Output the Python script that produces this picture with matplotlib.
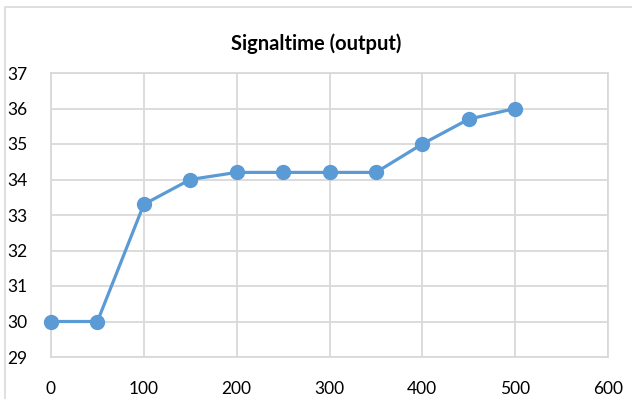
import matplotlib
matplotlib.use("Agg")
import matplotlib.pyplot as plt
from matplotlib.patches import Rectangle

x_values = [0, 50, 100, 150, 200, 250, 300, 350, 400, 450, 500]
y_values = [30, 30, 33.3, 34, 34.2, 34.2, 34.2, 34.2, 35, 35.7, 36]
x_ticks = [0, 100, 200, 300, 400, 500, 600]
y_ticks = [29, 30, 31, 32, 33, 34, 35, 36, 37]
title = "Signaltime (output)"

plt.rcParams['font.family'] = ['Lato', 'DejaVu Sans']

fig = plt.figure(figsize=(6.32, 3.99), dpi=100)
W, H = 632, 399
fig.patches.append(Rectangle((5 / W, -0.1), 1.2, (399 - 7) / H + 0.1, transform=fig.transFigure,
                             fill=False, edgecolor='#D9D9D9', linewidth=1.2))

ax = fig.add_axes([51 / W, 1 - 357 / H, (608 - 51) / W, (357 - 73) / H])
ax.plot(x_values, y_values, color='#5B9BD5', linewidth=2.3, marker='o', markersize=10,
        markerfacecolor='#5B9BD5', markeredgecolor='#5B9BD5', clip_on=False, zorder=3)
ax.set_xlim(0, 600)
ax.set_ylim(29, 37)
ax.set_xticks(x_ticks)
ax.set_yticks(y_ticks)
ax.grid(True, color='#D9D9D9', linewidth=1.3)
for s in ax.spines.values():
    s.set_color('#D9D9D9')
    s.set_linewidth(1.3)
ax.tick_params(length=0, labelsize=12.5, colors='black')
ax.tick_params(axis='y', pad=17)
ax.tick_params(axis='x', pad=17)
for lbl in ax.get_yticklabels():
    lbl.set_horizontalalignment('right')
fig.text(316 / W, 1 - 44 / H, title, ha='center', va='center',
         fontsize=14.5, fontweight='bold')
fig.savefig('out.png', dpi=100)
